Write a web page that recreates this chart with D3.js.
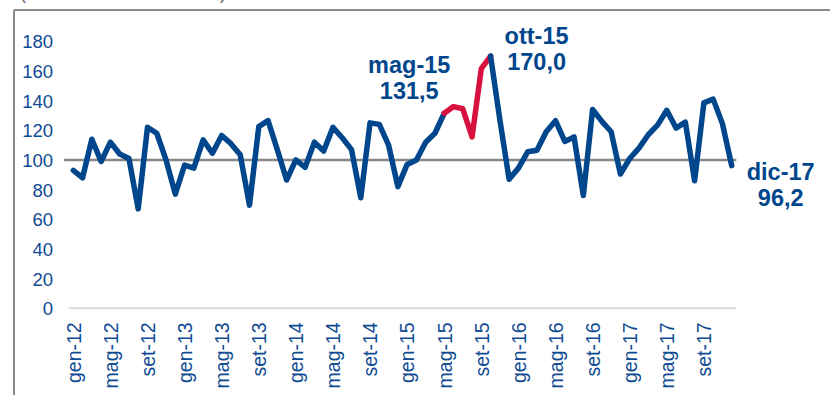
<!DOCTYPE html>
<html>
<head>
<meta charset="utf-8">
<script src="https://cdn.jsdelivr.net/npm/d3@7"></script>
<style>
  html, body { margin: 0; padding: 0; background: #fff; }
  svg { display: block; font-family: "Liberation Sans", Arial, sans-serif; }
</style>
</head>
<body>
<svg id="chart" width="830" height="395"></svg>
<script>
// Month abbreviations and years making up the monthly categories
const monthNames = ["gen", "feb", "mar", "apr", "mag", "giu", "lug", "ago", "set", "ott", "nov", "dic"];
const years = ["12", "13", "14", "15", "16", "17"];
const months = years.flatMap(y => monthNames.map(m => `${m}-${y}`));

// Monthly index values, gen-12 .. dic-17
const values = [
  93, 88, 114, 99, 112, 104, 101, 67, 122, 118, 100, 77,
  96.5, 94.5, 113.5, 104.5, 116.5, 111, 103.5, 69.5, 122.5, 126.5, 107, 86.5,
  100, 95, 112, 106, 122, 115, 107, 74.5, 125, 124, 110, 82,
  97, 100, 112, 118, 131.5, 136, 134.5, 115.5, 161.5, 170.0, 127, 87,
  94.5, 105.5, 106.5, 119, 126.5, 112.5, 115.5, 76, 134, 126, 119, 90.5,
  101, 108, 117, 123.5, 133.5, 121.5, 125.5, 86, 138.5, 141, 124.5, 96.2
];

const yTicks = [0, 20, 40, 60, 80, 100, 120, 140, 160, 180];
const referenceLevel = 100;
// Highlighted stretch of the series
const highlightFrom = "mag-15";
const highlightTo = "ott-15";
// Points carrying a value callout
const callouts = ["mag-15", "ott-15", "dic-17"];

const blue = "#00468c";
const red = "#d8103f";
const tickBlue = "#0f4b93";

const svg = d3.select("#chart");

const x = d3.scalePoint().domain(months).range([73.3, 731.7]);
const y = d3.scaleLinear().domain([0, 180]).range([308.3, 41.3]);

// outer frame (top and left edges visible)
svg.append("line").attr("x1", 14).attr("x2", 830).attr("y1", 10).attr("y2", 10)
  .attr("stroke", "#8a8a8a").attr("stroke-width", 2);
svg.append("line").attr("x1", 14).attr("x2", 14).attr("y1", 10).attr("y2", 395)
  .attr("stroke", "#8a8a8a").attr("stroke-width", 2);

// parentheses of the subtitle, running off the top edge
svg.append("text").attr("x", 20).attr("y", -1).attr("font-size", 18).attr("fill", "#666").text("(");
svg.append("text").attr("x", 220).attr("y", -1).attr("font-size", 18).attr("fill", "#666").text(")");

const step = x.step();
const x0 = x(months[0]) - step / 2;
const x1 = x(months[months.length - 1]) + step / 2;

// category axis baseline
svg.append("line").attr("x1", x0).attr("x2", x1).attr("y1", y(0)).attr("y2", y(0))
  .attr("stroke", "#d9d9d9").attr("stroke-width", 2);

// y axis labels (no line, no ticks)
const yAxis = d3.axisLeft(y).tickValues(yTicks).tickSize(0).tickPadding(0);
const gy = svg.append("g").attr("transform", "translate(53,0)").call(yAxis);
gy.select(".domain").remove();
gy.selectAll("text").attr("font-size", 18.5).attr("fill", tickBlue)
  .attr("font-family", "'Liberation Sans', Arial, sans-serif").attr("dy", "0.35em");

// x axis labels, every fourth month, rotated
const xAxis = d3.axisBottom(x).tickValues(months.filter((d, i) => i % 4 === 0)).tickSize(0).tickPadding(0);
const gx = svg.append("g").attr("transform", `translate(0,${y(0) + 14})`).call(xAxis);
gx.select(".domain").remove();
gx.selectAll("text")
  .attr("font-size", 19.5).attr("fill", tickBlue)
  .attr("font-family", "'Liberation Sans', Arial, sans-serif")
  .attr("transform", "rotate(-90)")
  .attr("text-anchor", "end")
  .attr("x", 0).attr("y", 0).attr("dy", "0.35em");

// reference line at 100
svg.append("line").attr("x1", 64).attr("x2", x1).attr("y1", y(referenceLevel)).attr("y2", y(referenceLevel))
  .attr("stroke", "#878787").attr("stroke-width", 2.5);

const line = d3.line().x(d => x(d.m)).y(d => y(d.v));
const pts = months.map((m, i) => ({ m, v: values[i] }));
const iFrom = months.indexOf(highlightFrom);
const iTo = months.indexOf(highlightTo);

const drawSeg = (seg, color) => svg.append("path").datum(seg).attr("d", line)
  .attr("fill", "none").attr("stroke", color).attr("stroke-width", 5.5)
  .attr("stroke-linejoin", "round").attr("stroke-linecap", "round");

drawSeg(pts.slice(0, iFrom + 1), blue);
drawSeg(pts.slice(iFrom, iTo + 1), red);
drawSeg(pts.slice(iTo), blue);

// value callouts
const fmt = v => d3.format(".1f")(v).replace(".", ",");
const calloutPos = {
  "mag-15": { dx: -35, top: 73, gap: 26 },
  "ott-15": { dx: 46, top: 44, gap: 26 },
  "dic-17": { dx: 49, top: 180, gap: 26 }
};
callouts.forEach(m => {
  const i = months.indexOf(m);
  const p = calloutPos[m];
  const cx = x(m) + p.dx;
  const g = svg.append("g").attr("fill", blue).attr("font-weight", "bold").attr("font-size", 23.5)
    .attr("text-anchor", "middle");
  g.append("text").attr("x", cx).attr("y", p.top).text(m);
  g.append("text").attr("x", cx).attr("y", p.top + p.gap).text(fmt(values[i]));
});
</script>
</body>
</html>
